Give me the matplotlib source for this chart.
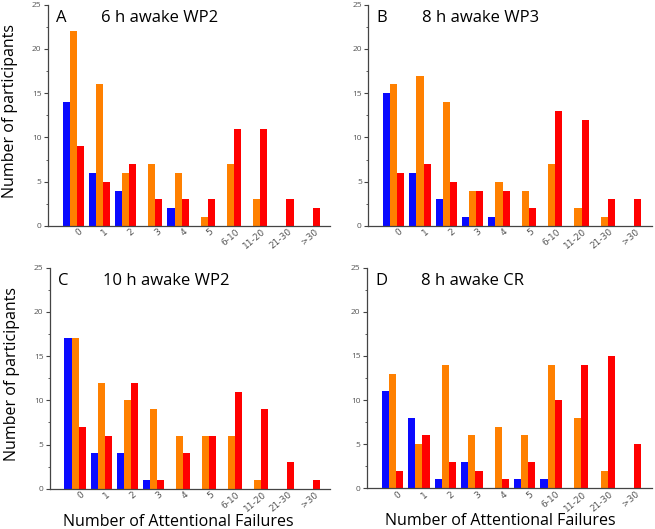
import numpy as np
import matplotlib.pyplot as plt
from matplotlib.ticker import MultipleLocator
import matplotlib.transforms as mtransforms

categories = ['0', '1', '2', '3', '4', '5', '6-10', '11-20', '21-30', '>30']

titles = ['6 h awake WP2', '8 h awake WP3', '10 h awake WP2', '8 h awake CR']
letters = ['A', 'B', 'C', 'D']

blue_A = [14, 6, 4, 0, 2, 0, 0, 0, 0, 0]
orange_A = [22, 16, 6, 7, 6, 1, 7, 3, 0, 0]
red_A = [9, 5, 7, 3, 3, 3, 11, 11, 3, 2]

blue_B = [15, 6, 3, 1, 1, 0, 0, 0, 0, 0]
orange_B = [16, 17, 14, 4, 5, 4, 7, 2, 1, 0]
red_B = [6, 7, 5, 4, 4, 2, 13, 12, 3, 3]

blue_C = [17, 4, 4, 1, 0, 0, 0, 0, 0, 0]
orange_C = [17, 12, 10, 9, 6, 6, 6, 1, 0, 0]
red_C = [7, 6, 12, 1, 4, 6, 11, 9, 3, 1]

blue_D = [11, 8, 1, 3, 0, 1, 1, 0, 0, 0]
orange_D = [13, 5, 14, 6, 7, 6, 14, 8, 2, 0]
red_D = [2, 6, 3, 2, 1, 3, 10, 14, 15, 5]

panels = [
    (blue_A, orange_A, red_A),
    (blue_B, orange_B, red_B),
    (blue_C, orange_C, red_C),
    (blue_D, orange_D, red_D),
]

plt.rcParams['font.family'] = ['Open Sans', 'DejaVu Sans']

fig = plt.figure(figsize=(6.55, 5.29), dpi=100)
rects = [
    [0.073, 0.573, 0.431, 0.418],
    [0.562, 0.573, 0.433, 0.418],
    [0.076, 0.076, 0.428, 0.418],
    [0.560, 0.077, 0.435, 0.417],
]

x = np.arange(len(categories))
w = 0.27
colors = ['#0a0aff', '#ff8000', '#ff0000']

for i, (rect, data) in enumerate(zip(rects, panels)):
    ax = fig.add_axes(rect)
    for j, (vals, c) in enumerate(zip(data, colors)):
        ax.bar(x + (j - 1) * w, vals, w, color=c, linewidth=0)
    ax.set_xlim(-0.97, 9.8)
    ax.set_ylim(0, 25)
    ax.yaxis.set_major_locator(MultipleLocator(5))
    ax.yaxis.set_minor_locator(MultipleLocator(2.5))
    ax.spines['top'].set_visible(False)
    ax.spines['right'].set_visible(False)
    for s in ['left', 'bottom']:
        ax.spines[s].set_color('#444444')
        ax.spines[s].set_linewidth(0.9)
    ax.tick_params(axis='y', which='major', length=3, width=0.8, colors='#444444',
                   labelsize=6, labelcolor='#555555', pad=1.5)
    ax.tick_params(axis='y', which='minor', length=1.8, width=0.6, colors='#444444')
    ax.tick_params(axis='x', length=0, pad=1)
    ax.set_xticks(x)
    ax.set_xticklabels(categories, rotation=40, ha='right', rotation_mode='anchor',
                       fontsize=6.5, color='#555555', family='DejaVu Sans')
    offset = mtransforms.ScaledTranslation(3.5 / 72, 0, fig.dpi_scale_trans)
    for lab in ax.get_xticklabels():
        lab.set_transform(lab.get_transform() + offset)
    ax.text(0.03, 0.975, letters[i], transform=ax.transAxes, fontsize=12, va='top', ha='left')
    ax.text(0.19, 0.975, titles[i], transform=ax.transAxes, fontsize=12, va='top', ha='left')
    if i in (0, 2):
        ax.set_ylabel('Number of participants', fontsize=11.5, va='center')
        ax.yaxis.set_label_coords(-0.135, 0.52)
    if i in (2, 3):
        ax.set_xlabel('Number of Attentional Failures', fontsize=11.5, va='center')
        ax.xaxis.set_label_coords(0.46 if i == 2 else 0.47, -0.15)

fig.savefig('out.png', dpi=100, facecolor='white')
